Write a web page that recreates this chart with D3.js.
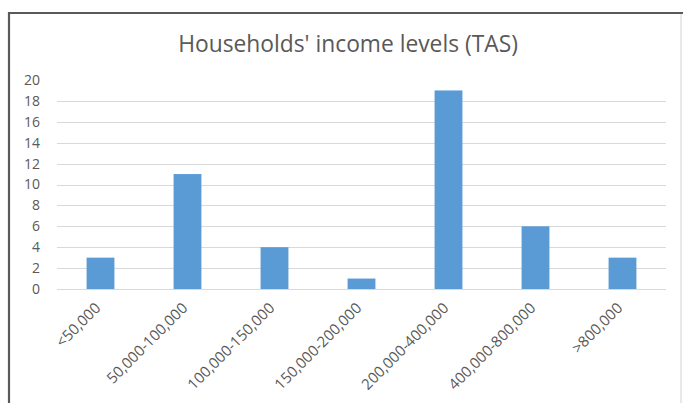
<!DOCTYPE html>
<html>
<head>
<meta charset="utf-8">
<script src="https://cdn.jsdelivr.net/npm/d3@7"></script>
<style>
  html, body { margin: 0; padding: 0; background: #fff; }
  svg { display: block; }
  text { font-family: "Open Sans", "Noto Sans", sans-serif; fill: #595959; }
</style>
</head>
<body>
<svg id="chart" width="683" height="403"></svg>
<script>
// Household counts by income band
const categories = ["<50,000", "50,000-100,000", "100,000-150,000", "150,000-200,000",
                    "200,000-400,000", "400,000-800,000", ">800,000"];
const households = [3, 11, 4, 1, 19, 6, 3];
const yTicks = [0, 2, 4, 6, 8, 10, 12, 14, 16, 18, 20];
const title = "Households' income levels (TAS)";

const W = 683, H = 403;
const plot = { left: 57, right: 666, top: 80, bottom: 289 };

const svg = d3.select("#chart");

// chart frame
svg.append("rect")
  .attr("x", 9).attr("y", 13)
  .attr("width", 672).attr("height", 400)
  .attr("fill", "#fff")
  .attr("stroke", "#d0d0d0").attr("stroke-width", 1);
svg.append("path")
  .attr("d", `M9,${H} V13 H${W}`)
  .attr("fill", "none")
  .attr("stroke", "#5a5a5a").attr("stroke-width", 2.2);

const x = d3.scaleBand()
  .domain(categories)
  .range([plot.left, plot.right])
  .paddingInner(0.68).paddingOuter(0.34);

const y = d3.scaleLinear()
  .domain([0, 20])
  .range([plot.bottom, plot.top]);

// title
svg.append("text")
  .attr("x", 348).attr("y", 52)
  .attr("text-anchor", "middle")
  .style("font-size", "22.8px")
  .text(title);

// gridlines
svg.append("g")
  .selectAll("line")
  .data(yTicks.filter(t => t > 0 && t < 20))
  .join("line")
  .attr("x1", plot.left).attr("x2", plot.right)
  .attr("y1", d => Math.round(y(d)) + 0.5).attr("y2", d => Math.round(y(d)) + 0.5)
  .attr("stroke", "#d9d9d9").attr("stroke-width", 1);

// y axis labels
const yAxis = d3.axisLeft(y).tickValues(yTicks).tickSize(0).tickPadding(0);
const gy = svg.append("g").attr("transform", `translate(40,0)`).call(yAxis);
gy.select(".domain").remove();
gy.selectAll("text")
  .style("font-size", "14px")
  .style("font-family", "'Open Sans', 'Noto Sans', sans-serif")
  .attr("fill", "#595959");

// bars
svg.append("g")
  .selectAll("rect")
  .data(categories.map((c, i) => ({ c, v: households[i] })))
  .join("rect")
  .attr("x", d => x(d.c))
  .attr("y", d => y(d.v))
  .attr("width", x.bandwidth())
  .attr("height", d => y(0) - y(d.v))
  .attr("fill", "#5b9bd5");

// baseline
svg.append("line")
  .attr("x1", plot.left).attr("x2", plot.right)
  .attr("y1", Math.round(y(0)) + 0.5).attr("y2", Math.round(y(0)) + 0.5)
  .attr("stroke", "#d9d9d9").attr("stroke-width", 1);

// x axis labels, rotated
const xAxis = d3.axisBottom(x).tickSize(0).tickPadding(0);
const gx = svg.append("g").attr("transform", `translate(0,${plot.bottom})`).call(xAxis);
gx.select(".domain").remove();
gx.selectAll("text")
  .style("font-size", "15px")
  .style("font-family", "'Open Sans', 'Noto Sans', sans-serif")
  .attr("fill", "#595959")
  .attr("text-anchor", "end")
  .attr("dy", null)
  .attr("y", 0)
  .attr("transform", "translate(1,20) rotate(-45)");
</script>
</body>
</html>
